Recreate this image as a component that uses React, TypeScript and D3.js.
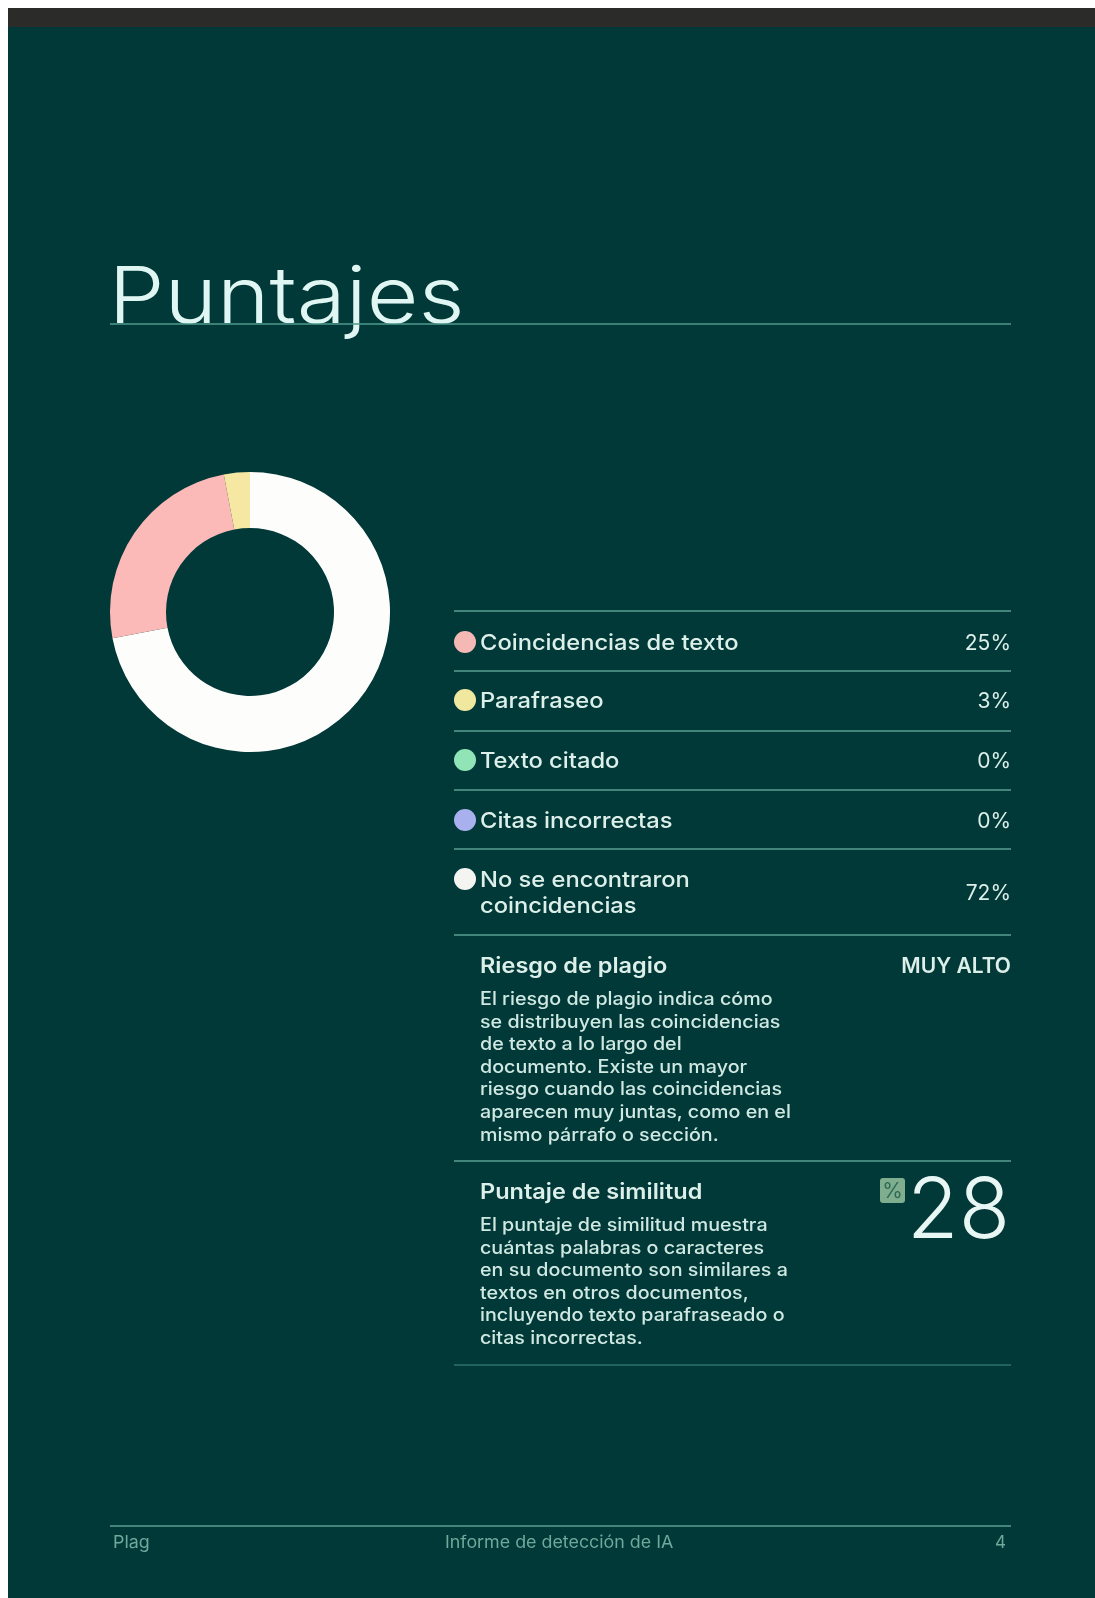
import React from "react";
import * as d3 from "d3";

const categories = ["Coincidencias de texto", "Parafraseo", "Texto citado", "Citas incorrectas", "No se encontraron coincidencias"];
const values = [25, 3, 0, 0, 72];
const legendColors = ["#f4b8b5", "#f1e8a0", "#90e4b6", "#a9b0ee", "#f4f4f1"];
const donutColors = ["#fbb9b7", "#f6e8a2", "#90e4b6", "#a9b0ee", "#fdfdfb"];
const donutOrder = [4, 0, 1, 2, 3];
const riesgoLines = ["El riesgo de plagio indica cómo", "se distribuyen las coincidencias", "de texto a lo largo del", "documento. Existe un mayor", "riesgo cuando las coincidencias", "aparecen muy juntas, como en el", "mismo párrafo o sección."];
const similitudLines = ["El puntaje de similitud muestra", "cuántas palabras o caracteres", "en su documento son similares a", "textos en otros documentos,", "incluyendo texto parafraseado o", "citas incorrectas."];
const ruleYs = [611, 671, 731, 790, 849, 935, 1161];
const rowYs = [642, 700, 760, 820];
const FONT = "Inter, 'Open Sans', sans-serif";

// Inter is narrower than the reference's geometric face: widen it horizontally.
function T({ x, y, sx = 1, anchor, children, ...rest }: any) {
  return (
    <text transform={`translate(${x},${y}) scale(${sx},1)`} textAnchor={anchor} {...rest}>
      {children}
    </text>
  );
}

export default function App() {
  const pie = d3.pie<number>().value((i) => values[i]).sort(null);
  const arc = d3.arc<any>().innerRadius(84).outerRadius(140);
  const arcs = pie(donutOrder);
  const ROW = 1.078;
  const HEAD = 1.12;
  const BODY = 1.095;
  const FOOT = 1.05;
  const textFill = "#dcefe9";
  return (
    <svg width={1095} height={1598} style={{ position: "absolute", left: 0, top: 0, display: "block" }} fontFamily={FONT}>
      <defs>
        <filter id="soft" x="-5%" y="-5%" width="110%" height="110%">
          <feGaussianBlur stdDeviation={0.5} />
        </filter>
      </defs>
      <rect width={1095} height={1598} fill="#fff" />
      <rect x={8} y={8} width={1087} height={1590} fill="#013838" />
      <rect x={8} y={8} width={1087} height={19} fill="#2b2b29" />
      <g filter="url(#soft)">
        <text x={108.5} y={323} fontSize={78} fontWeight={300} fill="#dff6f2" fontFamily="Inter" textLength={356} lengthAdjust="spacingAndGlyphs">Puntajes</text>
        <line x1={110} x2={1011} y1={324} y2={324} stroke="#4f9a8d" strokeWidth={1.4} />
        <g transform="translate(250,612)">
          {arcs.map((a) => <path key={a.data} d={arc(a) as string} fill={donutColors[a.data]} />)}
        </g>
        {ruleYs.map((y) => <line key={y} x1={454} x2={1011} y1={y} y2={y} stroke="#5a9f92" strokeWidth={1.5} />)}
        <line x1={454} x2={1011} y1={1365} y2={1365} stroke="#2f7468" strokeWidth={1.3} />
        {categories.slice(0, 4).map((c, i) => (
          <g key={c}>
            <circle cx={465} cy={rowYs[i]} r={11} fill={legendColors[i]} />
            <T x={480} y={rowYs[i] + 8} sx={ROW} fontSize={22} fontWeight={500} fill={textFill}>{c}</T>
            <text x={1011} y={rowYs[i] + 8} fontSize={21} textAnchor="end" fill={textFill}>{values[i]}%</text>
          </g>
        ))}
        <circle cx={465} cy={879} r={11} fill={legendColors[4]} />
        <T x={480} y={887} sx={ROW} fontSize={22} fontWeight={500} fill={textFill}>No se encontraron</T>
        <T x={480} y={913} sx={ROW} fontSize={22} fontWeight={500} fill={textFill}>coincidencias</T>
        <text x={1011} y={900} fontSize={21} textAnchor="end" fill={textFill}>{values[4]}%</text>
        <T x={480} y={973} sx={HEAD} fontSize={21} fontWeight={600} fill={textFill}>Riesgo de plagio</T>
        <T x={1011} y={973} sx={1.0} anchor="end" fontSize={21} fontWeight={600} fill={textFill}>MUY ALTO</T>
        {riesgoLines.map((l, i) => <T key={i} x={480} y={1005 + i * 22.6} sx={BODY} fontSize={18} fontWeight={500} fill="#cfe8e1">{l}</T>)}
        <T x={480} y={1199} sx={HEAD} fontSize={21} fontWeight={600} fill={textFill}>Puntaje de similitud</T>
        {similitudLines.map((l, i) => <T key={i} x={480} y={1231 + i * 22.6} sx={BODY} fontSize={18} fontWeight={500} fill="#cfe8e1">{l}</T>)}
        <rect x={880} y={1178} width={25} height={25} rx={3} fill="#7fae8f" />
        <text x={892.5} y={1198} fontSize={21} textAnchor="middle" fill="#2f6a55">%</text>
        <text x={1010} y={1238} fontSize={84} fontWeight={300} textAnchor="end" fill="#e8f7f3" fontFamily="Inter">28</text>
        <line x1={110} x2={1011} y1={1526} y2={1526} stroke="#5a9f92" strokeWidth={1.4} />
        <T x={113} y={1548} sx={FOOT} fontSize={17} fill="#6fa99b">Plag</T>
        <T x={445} y={1548} sx={FOOT} fontSize={17} fill="#6fa99b">Informe de detección de IA</T>
        <text x={1006} y={1548} fontSize={17} textAnchor="end" fill="#6fa99b">4</text>
      </g>
    </svg>
  );
}
